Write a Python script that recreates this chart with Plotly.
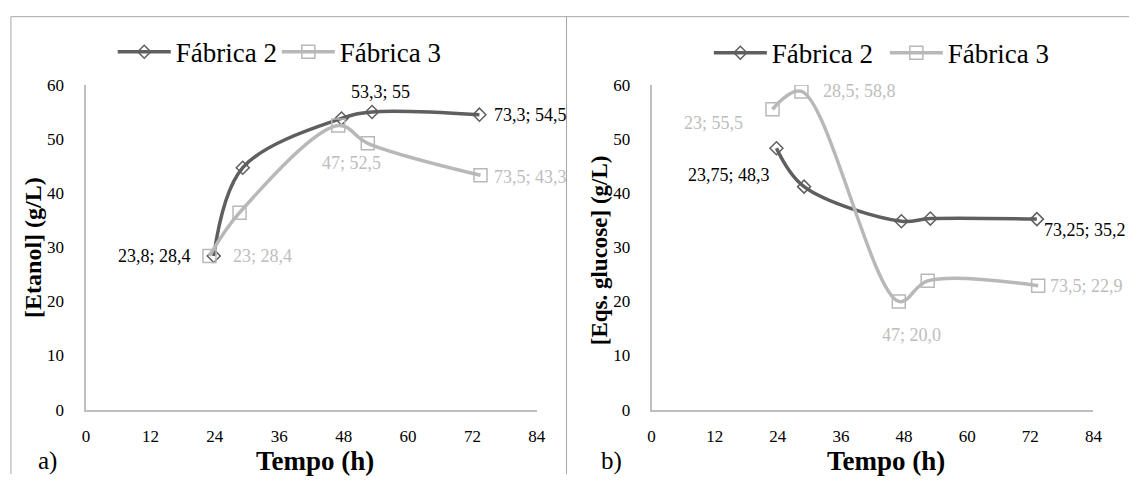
import plotly.graph_objects as go

# ---- data -------------------------------------------------------------
# a) ethanol (g/L) vs time (h)
etanol_f2_t = [23.8, 29.2, 47.6, 53.3, 73.3]
etanol_f2_v = [28.4, 44.7, 53.8, 55.0, 54.5]
etanol_f2_lab = ["23,8; 28,4", "", "", "53,3; 55", "73,3; 54,5"]

etanol_f3_t = [23.0, 28.6, 47.0, 52.5, 73.5]
etanol_f3_v = [28.4, 36.4, 52.5, 49.2, 43.3]
etanol_f3_lab = ["23; 28,4", "", "47; 52,5", "", "73,5; 43,3"]

# b) glucose equivalents (g/L) vs time (h)
glic_f2_t = [23.75, 29.0, 47.5, 53.0, 73.25]
glic_f2_v = [48.3, 41.2, 34.8, 35.3, 35.2]
glic_f2_lab = ["23,75; 48,3", "", "", "", "73,25; 35,2"]

glic_f3_t = [23.0, 28.5, 47.0, 52.5, 73.5]
glic_f3_v = [55.5, 58.8, 20.0, 23.8, 22.9]
glic_f3_lab = ["23; 55,5", "28,5; 58,8", "47; 20,0", "", "73,5; 22,9"]

series_names = ["Fábrica 2", "Fábrica 3"]
x_ticks = [0, 12, 24, 36, 48, 60, 72, 84]
y_ticks = [0, 10, 20, 30, 40, 50, 60]

# ---- style ------------------------------------------------------------
W, H = 1138, 484
FONT = "Liberation Serif, Times New Roman, serif"
DARK = "#5f5f5f"
LIGHT = "#b8b8b8"
LABEL_LIGHT = "#bdbdbd"
AXIS = "#bfbfbf"
BORDER = "#a6a6a6"


def px(x):
    return x / W


def py(y):
    return 1 - y / H


fig = go.Figure()


def add_series(t, v, name, color, symbol, msize, xa, ya, legend):
    fig.add_trace(go.Scatter(
        x=t, y=v, name=name, mode="lines+markers",
        line=dict(color=color, width=3.5, shape="spline", smoothing=1.0),
        marker=dict(symbol=symbol, size=msize, color=color,
                    line=dict(color=color, width=1.5)),
        xaxis=xa, yaxis=ya, legend=legend, showlegend=True,
    ))


# one legend box per entry so each entry can be placed on its own
add_series(etanol_f2_t, etanol_f2_v, series_names[0], DARK, "diamond-open", 10, "x", "y", "legend")
add_series(etanol_f3_t, etanol_f3_v, series_names[1], LIGHT, "square-open", 13, "x", "y", "legend2")
add_series(glic_f2_t, glic_f2_v, series_names[0], DARK, "diamond-open", 10, "x2", "y2", "legend3")
add_series(glic_f3_t, glic_f3_v, series_names[1], LIGHT, "square-open", 13, "x2", "y2", "legend4")

# data-label placement: (xanchor, xshift, yshift) per labelled point
annots = []


def add_labels(t, v, labels, color, xr, yr, places):
    for xi, yi, txt, pl in zip(t, v, labels, places):
        if not txt:
            continue
        anchor, dx, dy = pl
        annots.append(dict(
            x=xi, y=yi, xref=xr, yref=yr, text=txt, showarrow=False,
            xanchor=anchor, yanchor="middle", xshift=dx, yshift=dy,
            font=dict(family=FONT, size=18, color=color),
        ))


add_labels(etanol_f2_t, etanol_f2_v, etanol_f2_lab, "#000000", "x", "y",
           [("right", -21, 0), None, None, ("center", 8, 20), ("left", 13, 0)])
add_labels(etanol_f3_t, etanol_f3_v, etanol_f3_lab, LABEL_LIGHT, "x", "y",
           [("left", 22, 0), None, ("center", 13, -38), None, ("left", 12, -2)])
add_labels(glic_f2_t, glic_f2_v, glic_f2_lab, "#000000", "x2", "y2",
           [("right", -4, -27), None, None, None, ("left", 5, -11)])
add_labels(glic_f3_t, glic_f3_v, glic_f3_lab, LABEL_LIGHT, "x2", "y2",
           [("right", -28, -14), ("left", 20, 0), ("center", 13, -34), None, ("left", 10, 0)])

# axis titles and panel letters
annots += [
    dict(x=px(315), y=py(470), xref="paper", yref="paper", text="<b>Tempo (h)</b>",
         showarrow=False, xanchor="center", yanchor="middle",
         font=dict(family=FONT, size=27, color="#000000")),
    dict(x=px(892), y=py(470), xref="paper", yref="paper", text="<b>Tempo (h)</b>",
         showarrow=False, xanchor="center", yanchor="middle",
         font=dict(family=FONT, size=27, color="#000000")),
    dict(x=px(30), y=py(248), xref="paper", yref="paper", text="<b>[Etanol] (g/L)</b>",
         showarrow=False, xanchor="center", yanchor="middle", textangle=-90,
         font=dict(family=FONT, size=24, color="#000000")),
    dict(x=px(602), y=py(251), xref="paper", yref="paper", text="<b>[Eqs. glucose] (g/L)</b>",
         showarrow=False, xanchor="center", yanchor="middle", textangle=-90,
         font=dict(family=FONT, size=23, color="#000000")),
    dict(x=px(44), y=py(470), xref="paper", yref="paper", text="a)",
         showarrow=False, xanchor="center", yanchor="middle",
         font=dict(family=FONT, size=25, color="#000000")),
    dict(x=px(615), y=py(470), xref="paper", yref="paper", text="b)",
         showarrow=False, xanchor="center", yanchor="middle",
         font=dict(family=FONT, size=25, color="#000000")),
]

axis_common = dict(
    showline=True, linecolor=AXIS, linewidth=1.5, showgrid=False, zeroline=False,
    ticks="", tickfont=dict(family=FONT, size=17, color="#000000"),
)

y_dom = [py(417), py(79)]


def legend_box(xpix, ypix):
    return dict(orientation="h", x=px(xpix), y=py(ypix), xanchor="left", yanchor="middle",
                font=dict(family=FONT, size=27, color="#000000"),
                bgcolor="rgba(0,0,0,0)", itemwidth=53, itemclick=False)


fig.update_layout(
    width=W, height=H,
    margin=dict(l=0, r=0, t=0, b=0),
    paper_bgcolor="white", plot_bgcolor="white",
    xaxis=dict(domain=[px(83), px(539)], range=[0, 84], tickvals=x_ticks,
               anchor="y", ticklabelstandoff=10, **axis_common),
    yaxis=dict(domain=y_dom, range=[0, 60], tickvals=y_ticks,
               anchor="x", ticklabelstandoff=17, **axis_common),
    xaxis2=dict(domain=[px(655), px(1102)], range=[0, 84], tickvals=x_ticks,
                anchor="y2", ticklabelstandoff=10, **axis_common),
    yaxis2=dict(domain=y_dom, range=[0, 60], tickvals=y_ticks,
                anchor="x2", ticklabelstandoff=16, **axis_common),
    legend=legend_box(110, 45),
    legend2=legend_box(276, 45),
    legend3=legend_box(713, 46),
    legend4=legend_box(891, 46),
    annotations=annots,
    shapes=[
        # panel frames: top edge across, left edges of each panel
        dict(type="line", xref="paper", yref="paper", x0=px(7), x1=1.0,
             y0=py(8), y1=py(8), line=dict(color=BORDER, width=1)),
        dict(type="line", xref="paper", yref="paper", x0=px(7), x1=px(7),
             y0=0, y1=py(8), line=dict(color=BORDER, width=1)),
        dict(type="line", xref="paper", yref="paper", x0=px(569), x1=px(569),
             y0=0, y1=py(8), line=dict(color=BORDER, width=1)),
    ],
)

fig.write_html("out.html")
